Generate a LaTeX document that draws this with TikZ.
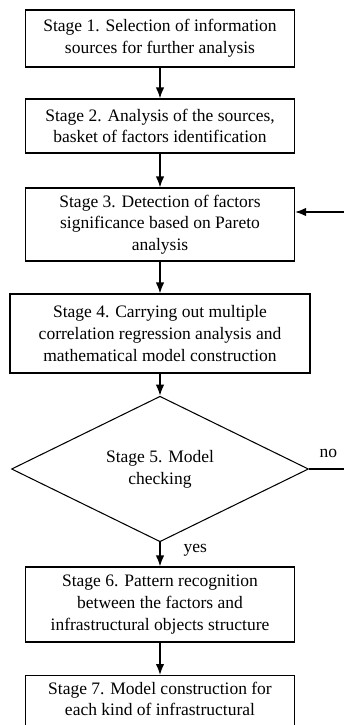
\documentclass[tikz,border=0pt]{standalone}
\usepackage{fontspec}
\setmainfont{Liberation Serif}
\usetikzlibrary{arrows.meta,shapes.geometric}

\begin{document}
\begin{tikzpicture}
		[>={Latex[length=2.2mm,width=1.7mm]},
		stage/.style= {draw=black,line width=0.6pt,rectangle,align=center,inner sep=0pt,
			font=\fontsize{9.96}{12.35}\selectfont,minimum width=5.38cm},
		check/.style= {draw=black,line width=0.6pt,diamond,align=center,inner sep=0pt,
			font=\fontsize{9.96}{12.35}\selectfont,minimum width=5.94cm,minimum height=2.52cm},
		flow/.style= {line width=0.9pt}]

		\useasboundingbox (0,0) rectangle (6.88,-14.5);

		\node[stage,minimum height=1.14cm] (s1) at (3.2,-0.77) {Stage 1. Selection of information\\sources for further analysis};

		\node[stage,minimum height=1.08cm] (s2) at (3.2,-2.52) {Stage 2. Analysis of the sources,\\basket of factors identification}
			edge [<-,flow]	(s1)
		;

		\node[stage,minimum height=1.46cm] (s3) at (3.2,-4.49) {Stage 3. Detection of factors\\significance based on Pareto\\analysis}
			edge [<-,flow]	(s2)
		;

		\node[stage,minimum width=6.0cm,minimum height=1.58cm] (s4) at (3.2,-6.67) {Stage 4. Carrying out multiple\\correlation regression analysis and\\mathematical model construction}
			edge [<-,flow]	(s3)
		;

		\node[check] (s5) at (3.2,-9.38) {Stage 5. Model\\checking}
			edge [<-,flow]	(s4)
		;

		\node[stage,minimum height=1.5cm] (s6) at (3.2,-12.09) {Stage 6. Pattern recognition\\between the factors and\\infrastructural objects structure}
			edge [<-,flow] node[right=3.4mm,pos=0.68,font=\fontsize{9.96}{12.35}\selectfont] {yes}	(s5)
		;

		\node[stage,minimum height=1.5cm,anchor=north] (s7) at (3.2,-13.5) {Stage 7. Model construction for\\each kind of infrastructural\\\strut}
			edge [<-,flow]	(s6)
		;

		\coordinate (fb) at (6.88,-4.24);
		\coordinate (no) at (6.88,-9.38);

		\draw[->,flow] (fb) -- (fb -| s3.east);
		\draw[line width=0.6pt] (s5.east) -- (no)
			node[pos=0.55,above=1mm,font=\fontsize{9.96}{12.35}\selectfont] {no};

	\end{tikzpicture}
\end{document}
